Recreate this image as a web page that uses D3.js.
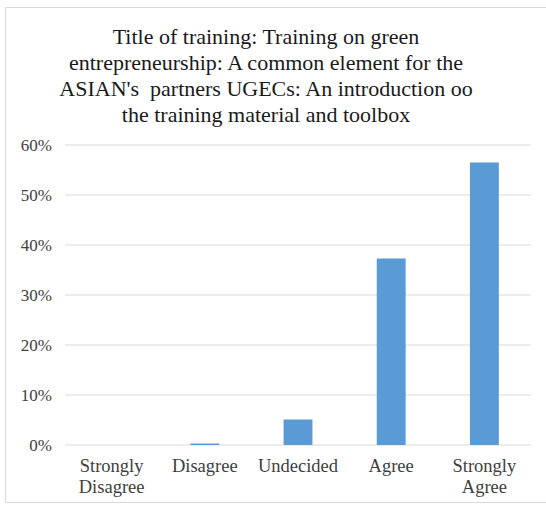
<!DOCTYPE html>
<html><head><meta charset="utf-8">
<script src="https://cdn.jsdelivr.net/npm/d3@7"></script>
<style>body{margin:0;background:#fff}svg{display:block}</style>
</head><body>
<script>
const categories = [["Strongly","Disagree"],["Disagree"],["Undecided"],["Agree"],["Strongly","Agree"]];
const values = [0, 0.003, 0.051, 0.373, 0.565];
const tickValues = [0, 0.1, 0.2, 0.3, 0.4, 0.5, 0.6];
const titleLines = ["Title of training: Training on green","entrepreneurship: A common element for the","ASIAN's  partners UGECs: An introduction oo","the training material and toolbox"];

const W=546,H=505;
const svg=d3.select("body").append("svg").attr("width",W).attr("height",H);
svg.append("rect").attr("x",5.5).attr("y",7.5).attr("width",W).attr("height",495).attr("fill","#fff").attr("stroke","#d9d9d9");
const font="'Liberation Serif', 'Times New Roman', serif";
svg.append("g").selectAll("text").data(titleLines).join("text")
 .attr("x",266).attr("y",(d,i)=>44+i*26).attr("text-anchor","middle")
 .attr("font-family",font).attr("font-size",22).attr("fill","#1a1a1a").style("white-space","pre").text(d=>d);

const x=d3.scaleBand().domain(d3.range(categories.length)).range([65,531]).paddingInner(0.69).paddingOuter(0.345);
const y=d3.scaleLinear().domain([0,0.6]).range([445,145]);

svg.append("g").selectAll("line").data(tickValues).join("line")
 .attr("x1",65).attr("x2",531).attr("y1",d=>y(d)).attr("y2",d=>y(d)).attr("stroke","#d9d9d9").attr("stroke-width",1.2);

const yAxis=svg.append("g").attr("transform","translate(65,0)").call(d3.axisLeft(y).tickValues(tickValues).tickFormat(d3.format(".0%")).tickSize(0).tickPadding(13));
yAxis.select(".domain").remove();
yAxis.selectAll("text").attr("font-family",font).attr("font-size",17).attr("fill","#404040");

svg.append("g").selectAll("rect").data(values).join("rect")
 .attr("x",(d,i)=>x(i)).attr("width",x.bandwidth()).attr("y",d=>y(d)).attr("height",d=>y(0)-y(d)).attr("fill","#5b9bd5");

const xl=svg.append("g").selectAll("text").data(categories).join("text")
 .attr("x",(d,i)=>x(i)+x.bandwidth()/2).attr("y",472).attr("text-anchor","middle")
 .attr("font-family",font).attr("font-size",18.5).attr("fill","#404040");
xl.selectAll("tspan").data(d=>d).join("tspan").attr("x",function(){return this.parentNode.getAttribute("x");}).attr("dy",(d,i)=>i?21:0).text(d=>d);
</script>
</body></html>
